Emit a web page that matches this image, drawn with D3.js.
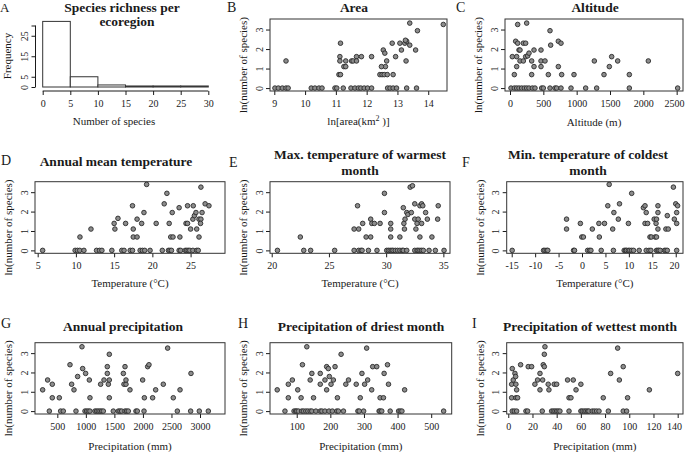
<!DOCTYPE html>
<html><head><meta charset="utf-8">
<script src="https://cdn.jsdelivr.net/npm/d3@7"></script>
<style>
body{margin:0;background:#fff}
text{font-family:"Liberation Serif","Times New Roman",serif;fill:#1a1a1a}
</style>
</head><body>
<svg id="c" width="685" height="452"></svg>
<script>
// ---------- DATA ----------
const histEdges = [0,5,10,15,20,25,30];
const histCounts = [32,5,1,0.5,0.5,0.5];
const histXTicks = [0,5,10,15,20,25,30];
const histYTicks = [0,5,15,25,30];
const histYLabels = ["0","5","15","25",""];

const yTicks = [0,1,2,3];

const areaTicks = [9,10,11,12,13,14];
const areaZeros = [9.02,9.13,9.26,9.38,9.45,10.2,10.32,10.45,10.55,10.97,11.03,11.24,11.49,11.62,11.73,11.81,11.92,12.03,12.16,12.68,12.76,12.86,12.97,13.3,13.62];
const areaPts = [[9.38,1.39],[11.15,2.30],[11.13,1.61],[11.13,1.39],[11.32,1.39],[11.10,0.69],[11.15,0.69],[11.26,1.10],[11.32,1.10],[11.51,1.39],[11.56,1.39],[11.67,1.61],[11.67,1.39],[11.83,1.61],[12.16,1.61],[12.54,1.95],[12.59,1.79],[12.65,1.39],[12.61,1.10],[12.48,1.10],[12.43,0.69],[12.50,0.69],[12.57,0.69],[12.67,0.69],[12.83,2.30],[12.86,0.69],[12.94,1.61],[13.08,2.30],[13.13,1.95],[13.24,2.30],[13.30,2.40],[13.26,2.45],[13.28,1.39],[13.40,2.20],[13.40,3.33],[13.59,1.95],[13.65,2.94],[14.49,3.26]];

const altTicks = [0,500,1000,1500,2000,2500];
const altZeros = [15,65,100,135,175,215,250,285,335,375,475,500,600,675,700,765,915,1135,1300,1790,2515];
const altPts = [[35,1.61],[100,1.61],[65,0.69],[85,2.40],[115,2.30],[115,3.26],[100,1.10],[135,1.95],[150,1.95],[150,1.39],[200,2.30],[235,2.30],[200,1.39],[235,1.61],[265,1.65],[250,3.33],[285,1.79],[325,1.39],[325,0.69],[360,1.95],[360,1.10],[465,1.95],[465,1.39],[525,1.39],[465,1.10],[575,0.69],[600,2.94],[610,2.20],[725,2.40],[765,2.30],[725,1.10],[775,0.69],[960,0.69],[1265,1.39],[1410,0.69],[1490,1.10],[1525,1.61],[1615,1.39],[1790,0.69],[2075,1.39]];

const tmeanTicks = [5,10,15,20,25];
const tmeanZeros = [5.65,9.9,10.2,10.5,11.05,12.7,13.1,13.4,14.7,16.0,16.3,17.1,17.4,18.4,18.7,19.0,19.7,21.3,22.1,22.3,22.5,23.5,23.7,24.3,24.5,24.7,24.9,25.3,25.8,26.0];
const tmeanPts = [[10.53,0.69],[11.97,1.10],[15.0,1.39],[15.1,1.10],[15.5,1.65],[16.5,1.39],[17.4,2.30],[17.5,1.10],[17.5,0.69],[18.0,0.69],[18.0,1.61],[18.6,1.39],[18.9,1.95],[19.25,3.40],[20.5,1.39],[21.55,2.40],[21.9,2.94],[22.2,1.39],[22.4,0.69],[22.7,0.69],[22.6,1.95],[23.5,2.20],[23.6,0.69],[24.4,1.39],[24.6,1.39],[24.6,2.30],[25.0,1.10],[25.3,1.61],[25.5,1.79],[25.35,2.30],[25.7,1.95],[25.8,1.10],[26.1,1.61],[26.35,1.61],[26.3,1.39],[26.1,0.69],[26.35,3.26],[26.5,1.95],[26.9,2.40],[27.4,2.30]];

const tmaxTicks = [20,25,30,35];
const tmaxZeros = [20.5,22.8,23.4,25.5,27.2,27.6,27.8,27.9,28.45,29.2,30.05,30.2,30.35,30.5,30.6,30.8,31.0,31.2,31.4,31.5,31.8,32.5,32.7,32.8,32.95,33.1,33.25,33.75,34.3,35.06];
const tmaxPts = [[22.5,0.69],[27.2,1.10],[27.6,1.10],[27.5,2.30],[27.95,1.39],[28.25,0.69],[28.65,0.69],[28.65,1.61],[28.75,1.39],[28.97,1.39],[29.47,1.39],[29.85,2.94],[29.85,1.95],[30.4,1.10],[30.4,1.39],[30.4,0.69],[31.2,0.69],[31.5,2.20],[31.55,1.39],[31.65,1.61],[31.6,1.10],[31.8,1.95],[31.9,1.85],[32.1,3.26],[32.3,3.33],[32.2,1.95],[32.5,2.40],[32.5,1.61],[32.7,1.39],[32.6,1.10],[32.8,1.61],[32.95,2.30],[33.1,2.40],[33.2,2.30],[32.95,0.69],[33.1,1.39],[33.45,1.95],[33.6,1.61],[34.0,0.69],[34.5,1.61],[34.55,2.30]];

const tminTicks = [-15,-10,-5,0,5,10,15,20];
const tminZeros = [-14.9,-8.2,-7.9,-7.5,-7.3,-1.8,-1.6,1.2,1.6,1.9,4.1,6.7,9.0,9.3,9.5,9.9,10.2,10.6,11.0,12.2,13.7,14.3,14.7,15.9,16.2,16.4,16.7,17.6,17.9,18.2,20.2];
const tminPts = [[-3.3,1.61],[-3.3,1.10],[-0.35,1.39],[-0.05,0.69],[0.3,0.69],[2.2,1.10],[3.6,1.39],[3.7,0.69],[4.8,1.39],[5.5,2.30],[5.8,3.40],[6.55,1.10],[6.8,1.95],[7.75,1.61],[8.0,2.40],[9.9,1.39],[10.6,2.94],[13.1,2.20],[13.45,2.30],[13.7,1.95],[13.45,1.39],[14.0,1.39],[14.5,0.69],[14.8,0.69],[15.4,1.61],[15.6,0.69],[15.9,0.69],[15.8,1.39],[16.2,2.30],[16.2,1.95],[16.2,1.10],[15.9,1.61],[18.2,1.79],[17.9,1.10],[18.4,1.10],[19.5,3.26],[19.7,1.61],[20.0,2.40],[20.4,2.30],[20.2,1.95],[20.2,1.39]];

const precTicks = [500,1000,1500,2000,2500,3000];
const precZeros = [360,558,605,827,985,1014,1043,1072,1160,1190,1218,1248,1277,1306,1481,1569,1598,1627,1686,1715,1744,1878,1902,2019,2603,2836,2988,3146];
const precPts = [[243,1.10],[330,1.61],[412,1.39],[412,0.69],[535,0.69],[722,2.40],[751,1.39],[792,1.10],[856,1.79],[932,3.33],[944,2.20],[996,1.95],[1061,1.61],[1072,0.69],[1259,1.39],[1318,1.61],[1376,2.30],[1376,1.95],[1394,1.39],[1411,2.94],[1411,1.61],[1411,0.69],[1657,1.95],[1668,1.39],[1703,1.39],[1686,2.30],[1703,1.61],[1773,1.10],[1995,1.61],[2025,0.69],[2083,2.30],[2106,2.40],[2170,0.69],[2223,1.10],[2357,1.39],[2433,3.26],[2532,0.69],[2650,1.10],[2842,1.95]];

const dryTicks = [100,200,300,400,500];
const dryZeros = [65,92,97,100,105,115,120,127,133,140,145,157,170,175,184,196,206,219,224,239,282,286,299,345,348,353,378,403,408,413,537];
const dryPts = [[42,1.10],[75,1.39],[75,0.69],[87,1.61],[103,1.10],[113,0.69],[117,2.40],[130,3.33],[145,1.95],[140,1.61],[150,0.69],[170,1.95],[170,1.39],[184,1.61],[189,1.10],[189,2.30],[194,2.20],[197,1.79],[202,1.39],[209,1.61],[214,2.30],[221,0.69],[232,2.94],[246,1.39],[254,1.61],[277,1.39],[289,0.69],[294,1.95],[302,1.39],[308,3.26],[311,1.61],[323,1.10],[326,2.30],[338,2.30],[348,0.69],[358,0.69],[360,1.95],[370,2.40],[373,1.39],[421,1.10]];

const wetTicks = [0,20,40,60,80,100,120,140];
const wetZeros = [3.3,5,6.9,14.6,16,28.1,35.8,37.2,38.6,40,41.3,42.7,50.2,60,61.2,62.8,64.2,65.6,66.7,69.4,71.1,73,75,82.7,95,97.8];
const wetPts = [[3.3,2.20],[2.8,1.39],[2.8,0.69],[4.1,1.61],[5.5,1.95],[6.1,1.79],[6.3,1.39],[6.9,1.10],[6.3,0.69],[7.7,0.69],[10.2,2.40],[16.5,2.30],[19.3,2.30],[22,1.39],[24.2,1.61],[26.2,1.95],[26.2,1.10],[28.4,1.61],[28.9,2.40],[29.8,2.30],[29.8,2.94],[30.3,3.33],[33,1.39],[33.6,1.10],[38,1.39],[40,1.39],[49,1.61],[50.2,0.69],[51.8,0.69],[53.7,1.61],[56,1.10],[60,1.39],[78.5,0.69],[84.6,1.95],[90.4,3.26],[91.8,1.61],[95,2.30],[98.6,0.69],[116.6,1.10],[140,1.95]];

// ---------- DRAWING ----------
const svg = d3.select("#c");
const INK = "#1a1a1a";

function txt(g, x, y, s, size, opts = {}) {
  const t = g.append("text").attr("x", x).attr("y", y)
    .attr("font-size", size).attr("text-anchor", opts.anchor || "middle")
    .attr("font-weight", opts.bold ? "bold" : "normal").text(s);
  if (opts.rot) t.attr("transform", `rotate(-90,${x},${y})`);
  return t;
}

const YLAB = "ln(number of species)";

const panels = [
  {L:"B", box:[270,447,19,91], xd:[8.86,14.61], ticks:areaTicks, zeros:areaZeros, pts:areaPts,
   title:["Area"], tx:354, ty:[12], lp:[227,12], xlab:"area", xly:125},
  {L:"C", box:[505,683,19,91], xd:[-75,2595], ticks:altTicks, zeros:altZeros, pts:altPts,
   title:["Altitude"], tx:595, ty:[12], lp:[456,12], xlab:"Altitude (m)", xly:126},
  {L:"D", box:[35,225,181.7,253.3], xd:[4.65,29.5], ticks:tmeanTicks, zeros:tmeanZeros, pts:tmeanPts,
   title:["Annual mean temperature"], tx:116, ty:[166], lp:[1,165], xlab:"Temperature (°C)", xly:287},
  {L:"E", box:[270,450,181.7,253.3], xd:[19.85,35.58], ticks:tmaxTicks, zeros:tmaxZeros, pts:tmaxPts,
   title:["Max. temperature of warmest","month"], tx:360, ty:[158.5,174.5], lp:[229,167], xlab:"Temperature (°C)", xly:287},
  {L:"F", box:[506.7,683,181.7,253.3], xd:[-16.07,21.55], ticks:tminTicks, zeros:tminZeros, pts:tminPts,
   title:["Min. temperature of coldest","month"], tx:588, ty:[158.5,174.5], lp:[462,167], xlab:"Temperature (°C)", xly:287},
  {L:"G", box:[35,225,342.7,414], xd:[109,3438], ticks:precTicks, zeros:precZeros, pts:precPts,
   title:["Annual precipitation"], tx:123, ty:[331], lp:[1,328], xlab:"Precipitation (mm)", xly:449.5},
  {L:"H", box:[270,451.7,342.7,414], xd:[20.5,561], ticks:dryTicks, zeros:dryZeros, pts:dryPts,
   title:["Precipitation of driest month"], tx:361, ty:[331], lp:[238,328], xlab:"Precipitation (mm)", xly:449.5},
  {L:"I", box:[506.7,683,342.7,414], xd:[-1.3,144.4], ticks:wetTicks, zeros:wetZeros, pts:wetPts,
   title:["Precipitation of wettest month"], tx:590, ty:[331], lp:[472,328], xlab:"Precipitation (mm)", xly:449.5}
];

panels.forEach(p => {
  const [l, r, t, b] = p.box;
  const g = svg.append("g");
  const x = d3.scaleLinear().domain(p.xd).range([l, r]);
  const y = d3.scaleLinear().domain([-0.15, 3.54]).range([b, t]);

  // x axis
  const xa = g.append("g").attr("transform", `translate(0,${b})`)
    .call(d3.axisBottom(x).tickValues(p.ticks).tickSize(4).tickPadding(5).tickFormat(d3.format("d")));
  xa.select(".domain").remove();
  xa.selectAll("line").attr("stroke", INK);
  xa.selectAll("text").attr("font-size", 10).attr("fill", INK)
    .attr("font-family", '"Liberation Serif",serif')
    .text(d => d < 0 ? "-" + Math.abs(d) : String(d))
    .attr("dx", d => (x(d) + 11 > 685) ? (685 - 11 - x(d)) : 0);

  // y axis
  const ya = g.append("g").attr("transform", `translate(${l},0)`)
    .call(d3.axisLeft(y).tickValues(yTicks).tickSize(4).tickFormat(d3.format("d")));
  ya.select(".domain").remove();
  ya.selectAll("line").attr("stroke", INK);
  ya.selectAll("text").attr("font-size", 10).attr("fill", INK)
    .attr("font-family", '"Liberation Serif",serif')
    .attr("x", null).attr("dy", null).attr("text-anchor", "middle")
    .attr("transform", "translate(-7.5,0) rotate(-90)");

  // box
  g.append("rect").attr("x", l).attr("y", t).attr("width", r - l).attr("height", b - t)
    .attr("fill", "none").attr("stroke", "#333").attr("stroke-width", 1);

  // points
  const all = p.zeros.map(v => [v, 0]).concat(p.pts);
  g.selectAll("circle").data(all).enter().append("circle")
    .attr("cx", d => x(d[0])).attr("cy", d => y(d[1])).attr("r", 2.3)
    .attr("fill", "#8c8c8c").attr("stroke", "#2a2a2a").attr("stroke-width", 0.9);

  // titles
  p.title.forEach((s, i) => txt(g, p.tx, p.ty[i], s, 13.5, {bold: true}));
  txt(g, p.lp[0], p.lp[1], p.L, 14, {anchor: "start"});

  // x label
  if (p.xlab === "area") {
    const tt = g.append("text").attr("x", (l + r) / 2).attr("y", p.xly)
      .attr("font-size", 11).attr("text-anchor", "middle");
    tt.append("tspan").text("ln[area(km");
    tt.append("tspan").attr("dy", -4).attr("font-size", 8).text("2");
    tt.append("tspan").attr("dy", 4).text(" )]");
  } else {
    txt(g, (l + r) / 2, p.xly, p.xlab, 11);
  }
  // y label
  txt(g, l - 23, (t + b) / 2 + 10, YLAB, 11, {rot: true});
});

// ---------- Histogram (A) ----------
(function () {
  const g = svg.append("g");
  const x = d3.scaleLinear().domain([0, 30]).range([42.7, 208.3]);
  const y = d3.scaleLinear().domain([0, 30]).range([87, 25.5]);
  const bins = histCounts.map((c, i) => ({x0: histEdges[i], x1: histEdges[i + 1], c}));
  g.selectAll("rect").data(bins).enter().append("rect")
    .attr("x", d => x(d.x0)).attr("y", d => y(d.c))
    .attr("width", d => x(d.x1) - x(d.x0)).attr("height", d => y(0) - y(d.c))
    .attr("fill", "#fff").attr("stroke", "#333").attr("stroke-width", 1);

  const xa = g.append("g").attr("transform", "translate(0,91)")
    .call(d3.axisBottom(x).tickValues(histXTicks).tickSize(4).tickSizeOuter(0).tickPadding(5));
  xa.select(".domain").attr("stroke", INK).attr("d", `M${x(0)},0H${x(30)}`);
  xa.selectAll("line").attr("stroke", INK);
  xa.selectAll("text").attr("font-size", 10).attr("fill", INK).attr("font-family", '"Liberation Serif",serif');

  const ya = g.append("g").attr("transform", "translate(35.5,0)")
    .call(d3.axisLeft(y).tickValues(histYTicks).tickSize(4).tickSizeOuter(0)
      .tickFormat((d, i) => histYLabels[i]));
  ya.select(".domain").attr("stroke", INK).attr("d", `M0,${y(0)}V${y(30)}`);
  ya.selectAll("line").attr("stroke", INK);
  ya.selectAll("text").attr("font-size", 10).attr("fill", INK)
    .attr("font-family", '"Liberation Serif",serif')
    .attr("x", null).attr("dy", null).attr("text-anchor", "middle")
    .attr("transform", "translate(-7.5,0) rotate(-90)");

  txt(g, 122, 11.5, "Species richness per", 13.5, {bold: true});
  txt(g, 127, 25.5, "ecoregion", 13.5, {bold: true});
  txt(g, 0, 11.5, "A", 13, {anchor: "start"});
  txt(g, 114, 125, "Number of species", 11);
  txt(g, 10.5, 56, "Frequency", 11, {rot: true});
})();
</script>
</body></html>
